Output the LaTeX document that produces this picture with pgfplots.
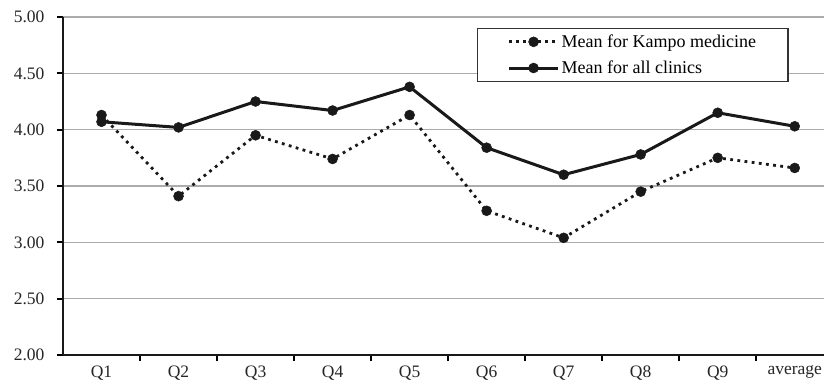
\documentclass[border=0pt]{standalone}
\usepackage{pgfplots}
\pgfplotsset{compat=1.18}
\usepackage{fontspec}
\setmainfont{Liberation Serif}
\begin{document}
\begin{tikzpicture}
\begin{axis}[
  scale only axis,
  width=761pt, height=338pt,
  xmin=-0.5, xmax=9.38,
  ymin=2, ymax=5,
  ytick={2,2.5,...,5},
  yticklabel style={xshift=-9pt, /pgf/number format/.cd,fixed,fixed zerofill,precision=2},
  /pgf/number format/assume math mode=true,
  xtick={0,...,9},
  xticklabels={Q1,Q2,Q3,Q4,Q5,Q6,Q7,Q8,Q9,average},
  minor xtick={0.5,1.5,...,8.5},
  major x tick style={draw=none},
  minor x tick style={black, line width=2pt},
  minor tick length=6pt,
  axis x line*=bottom, axis y line*=left,
  axis line style={black!90, line width=2.6pt, -},
  ymajorgrids, grid style={gray!65, line width=1.3pt},
  ytick style={black, line width=2pt},
  major tick length=6pt,
  tick align=outside,
  ticklabel style={font=\fontsize{17.5}{20}\selectfont, text=black!85},
  xticklabel style={yshift=-1pt},
  legend style={at={(0.544,0.967)}, anchor=north west, draw=black!80, line width=1.2pt,
    font=\fontsize{18}{21}\selectfont, fill=white, row sep=8pt,
    inner xsep=30pt, inner ysep=4pt},
  legend cell align=left,
  legend image code/.code={
    \draw[#1] (0pt,0pt) -- (49pt,0pt);
    \draw[#1, solid] plot coordinates {(24.5pt,0pt)};
  },
]
\addplot[black!90, line width=2.8pt, dash pattern=on 2.8pt off 4.4pt, mark=*, mark size=5pt, mark options={solid, line width=0.5pt}]
  coordinates {(0,4.13)(1,3.41)(2,3.95)(3,3.74)(4,4.13)(5,3.28)(6,3.04)(7,3.45)(8,3.75)(9,3.66)};
\addlegendentry{Mean for Kampo medicine}
\addplot[black!90, line width=3pt, mark=*, mark size=5pt, mark options={line width=0.5pt}]
  coordinates {(0,4.07)(1,4.02)(2,4.25)(3,4.17)(4,4.38)(5,3.84)(6,3.60)(7,3.78)(8,4.15)(9,4.03)};
\addlegendentry{Mean for all clinics}
\end{axis}
\pgfresetboundingbox
\path ([shift={(-63pt,-34pt)}]current axis.south west) rectangle ([shift={(0pt,17pt)}]current axis.north east);
\end{tikzpicture}
\end{document}
